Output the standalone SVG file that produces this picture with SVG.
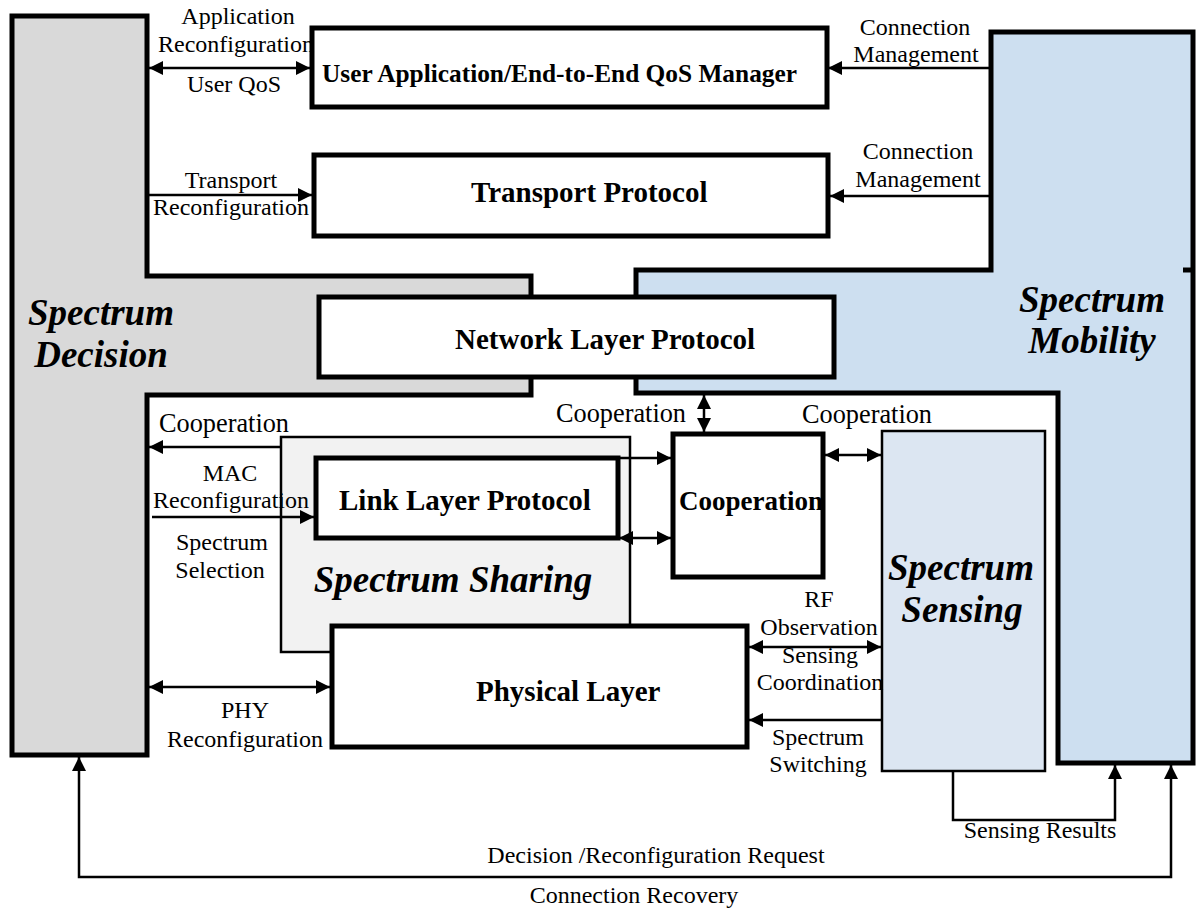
<svg xmlns="http://www.w3.org/2000/svg" width="1198" height="911" viewBox="0 0 1198 911">
<style>
.lbl{font-family:"Liberation Serif","Times New Roman",serif;font-size:24px;fill:#000;text-anchor:middle}
.coop{font-size:26.3px}
.bold{font-family:"Liberation Serif","Times New Roman",serif;font-size:29px;font-weight:bold;fill:#000}
.big{font-family:"Liberation Serif","Times New Roman",serif;font-size:37px;font-weight:bold;font-style:italic;fill:#000;text-anchor:middle}
.box{fill:#fff;stroke:#000;stroke-width:5}
.thin{stroke:#000;stroke-width:2.5}
.con{fill:none;stroke:#000;stroke-width:2.5}
.a2{marker-start:url(#ah);marker-end:url(#ah)}
.a1{marker-end:url(#ah)}
</style>
<defs>
<marker id="ah" markerUnits="userSpaceOnUse" markerWidth="15" markerHeight="16" refX="14" refY="8" orient="auto-start-reverse">
<path d="M0,1 L14,8 L0,15 Z" fill="#000"/>
</marker>
</defs>
<rect width="1198" height="911" fill="#fff"/>

<g id="spectrum-decision">
<path d="M12,16 H147 V276 H531 V395 H147 V755 H12 Z" fill="#d9d9d9" stroke="#000" stroke-width="5" stroke-linejoin="miter"/>
<text class="big" x="101" y="325">Spectrum</text>
<text class="big" x="101" y="367">Decision</text>
</g>

<g id="spectrum-mobility">
<path d="M991,32 H1193 V763 H1058 V393 H636 V270 H991 Z" fill="#cddff0" stroke="#000" stroke-width="5"/>
<line x1="1183" y1="270" x2="1193" y2="270" stroke="#000" stroke-width="5"/>
<text class="big" x="1092" y="312">Spectrum</text>
<text class="big" x="1092" y="353">Mobility</text>
</g>

<g id="user-application">
<rect class="box" x="312" y="28" width="515" height="79"/>
<text class="bold" x="322" y="82" style="font-size:25.5px" textLength="475" lengthAdjust="spacingAndGlyphs">User Application/End-to-End QoS Manager</text>
</g>

<g id="transport-protocol">
<rect class="box" x="314" y="155" width="514" height="81"/>
<text class="bold" x="471" y="202">Transport Protocol</text>
</g>

<g id="network-layer">
<rect class="box" x="319" y="297" width="515" height="80"/>
<text class="bold" x="455" y="349">Network Layer Protocol</text>
</g>

<g id="spectrum-sharing">
<rect class="thin" x="281" y="437" width="349" height="215" fill="#f2f2f2"/>
<text class="big" x="453" y="592">Spectrum Sharing</text>
</g>

<g id="link-layer">
<rect class="box" x="316" y="458" width="302" height="80"/>
<text class="bold" x="339" y="510">Link Layer Protocol</text>
</g>

<g id="physical-layer">
<rect class="box" x="332" y="626" width="415" height="121"/>
<text class="bold" x="476" y="701">Physical Layer</text>
</g>

<g id="cooperation">
<rect class="box" x="673" y="434" width="150" height="143"/>
<text class="bold" x="679" y="510" style="font-size:27px">Cooperation</text>
</g>

<g id="spectrum-sensing">
<rect class="thin" x="882" y="431" width="163" height="340" fill="#dce6f2"/>
<text class="big" x="961" y="580">Spectrum</text>
<text class="big" x="962" y="622">Sensing</text>
</g>

<g id="connectors">
<line class="con a2" x1="149" y1="68" x2="310" y2="68"/>
<line class="con a1" x1="149" y1="195" x2="312" y2="195"/>
<line class="con a1" x1="990" y1="68" x2="828" y2="68"/>
<line class="con a1" x1="990" y1="196" x2="830" y2="196"/>
<line class="con a1" x1="281" y1="447" x2="149" y2="447"/>
<line class="con a1" x1="152" y1="517" x2="314" y2="517"/>
<line class="con a2" x1="149" y1="687" x2="330" y2="687"/>
<line class="con a1" x1="620" y1="458" x2="671" y2="458"/>
<line class="con a2" x1="619" y1="538" x2="671" y2="538"/>
<line class="con a2" x1="704" y1="395" x2="704" y2="432"/>
<line class="con a2" x1="825" y1="455" x2="881" y2="455"/>
<line class="con a2" x1="749" y1="647" x2="881" y2="647"/>
<line class="con a1" x1="881" y1="720" x2="749" y2="720"/>
<polyline class="con a1" points="953,771 953,820 1115,820 1115,765"/>
<polyline class="con a2" points="79,757 79,877 1171,877 1171,765"/>

<text class="lbl" x="238" y="24">Application</text>
<text class="lbl" x="236" y="52">Reconfiguration</text>
<text class="lbl" x="234" y="92">User QoS</text>
<text class="lbl" x="231" y="188">Transport</text>
<text class="lbl" x="231" y="215">Reconfiguration</text>
<text class="lbl" x="915" y="35">Connection</text>
<text class="lbl" x="916" y="62">Management</text>
<text class="lbl" x="918" y="159">Connection</text>
<text class="lbl" x="918" y="187">Management</text>
<text class="lbl coop" x="224" y="432">Cooperation</text>
<text class="lbl" x="230" y="481">MAC</text>
<text class="lbl" x="231" y="508">Reconfiguration</text>
<text class="lbl" x="222" y="550">Spectrum</text>
<text class="lbl" x="220" y="578">Selection</text>
<text class="lbl coop" x="621" y="422">Cooperation</text>
<text class="lbl coop" x="867" y="423">Cooperation</text>
<text class="lbl" x="819" y="607">RF</text>
<text class="lbl" x="819" y="635">Observation</text>
<text class="lbl" x="820" y="663">Sensing</text>
<text class="lbl" x="820" y="690">Coordination</text>
<text class="lbl" x="818" y="745">Spectrum</text>
<text class="lbl" x="818" y="772">Switching</text>
<text class="lbl" x="245" y="718">PHY</text>
<text class="lbl" x="245" y="747">Reconfiguration</text>
<text class="lbl" x="1040" y="838">Sensing Results</text>
<text class="lbl" x="656" y="863">Decision /Reconfiguration Request</text>
<text class="lbl" x="634" y="903">Connection Recovery</text>
</g>
</svg>
